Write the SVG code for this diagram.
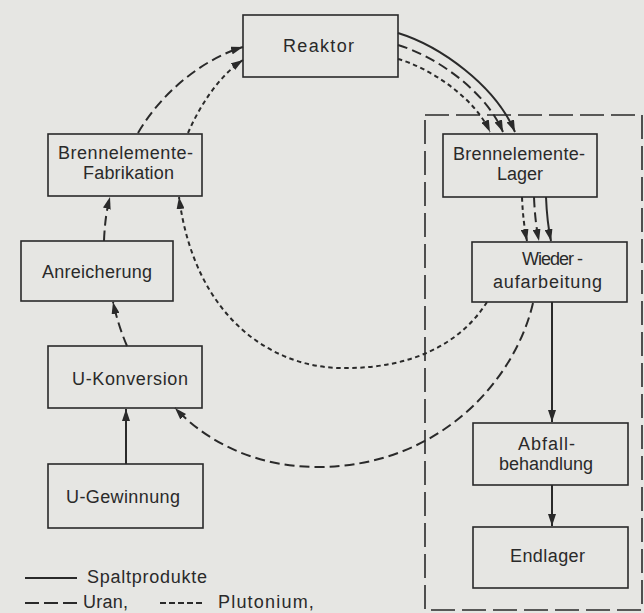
<svg xmlns="http://www.w3.org/2000/svg" width="644" height="613" viewBox="0 0 644 613">
<style>
.bg{fill:#e6e6e3}
.box{fill:none;stroke:#2a2a2a;stroke-width:1.6}
.t{font-family:"Liberation Sans",Arial,sans-serif;font-size:18px;fill:#2a2a2a}
.c{fill:none;stroke:#2a2a2a;stroke-width:2}
.u{stroke-dasharray:10 5}
.p{stroke-dasharray:4.5 3.5}
.enc{fill:none;stroke:#2a2a2a;stroke-width:1.6;stroke-dasharray:24 7}
</style>
<defs>
<marker id="ah" viewBox="0 0 12 8" refX="12" refY="4" markerWidth="12" markerHeight="8" markerUnits="userSpaceOnUse" orient="auto">
<path d="M0,0 L12,4 L0,8 z" fill="#2a2a2a"/>
</marker>
</defs>
<rect class="bg" x="0" y="0" width="644" height="613"/>
<path id="bereich" class="enc" d="M425,115 H642 V610 H425 Z"/>
<g id="reaktor"><rect class="box" x="243" y="15" width="155" height="62"/><text class="t" x="283" y="52" textLength="71" lengthAdjust="spacing">Reaktor</text></g>
<g id="lager"><rect class="box" x="443" y="134" width="154" height="63"/><text class="t" x="453" y="160" textLength="132" lengthAdjust="spacing">Brennelemente-</text><text class="t" x="497" y="180" textLength="46" lengthAdjust="spacing">Lager</text></g>
<g id="wiederaufarbeitung"><rect class="box" x="472" y="242" width="155" height="60"/><text class="t" x="522" y="265" textLength="61" lengthAdjust="spacing">Wieder -</text><text class="t" x="493" y="288" textLength="109" lengthAdjust="spacing">aufarbeitung</text></g>
<g id="abfall"><rect class="box" x="473" y="423" width="155" height="62"/><text class="t" x="518" y="450" textLength="57" lengthAdjust="spacing">Abfall-</text><text class="t" x="499" y="470" textLength="94" lengthAdjust="spacing">behandlung</text></g>
<g id="endlager"><rect class="box" x="473" y="527" width="155" height="61"/><text class="t" x="510" y="562" textLength="75" lengthAdjust="spacing">Endlager</text></g>
<g id="fabrikation"><rect class="box" x="48" y="134" width="154" height="62"/><text class="t" x="58" y="159" textLength="135" lengthAdjust="spacing">Brennelemente-</text><text class="t" x="83" y="179" textLength="91" lengthAdjust="spacing">Fabrikation</text></g>
<g id="anreicherung"><rect class="box" x="21" y="241" width="152" height="60"/><text class="t" x="42" y="278" textLength="110" lengthAdjust="spacing">Anreicherung</text></g>
<g id="konversion"><rect class="box" x="48" y="346" width="154" height="62"/><text class="t" x="72" y="385" textLength="116" lengthAdjust="spacing">U-Konversion</text></g>
<g id="gewinnung"><rect class="box" x="48" y="464" width="155" height="64"/><text class="t" x="66" y="503" textLength="114" lengthAdjust="spacing">U-Gewinnung</text></g>
<g id="connectors">
<path class="c" d="M398,33 C440,46 495,85 515,132" marker-end="url(#ah)"/>
<path class="c u" d="M398,45 C435,56 485,90 503,132" marker-end="url(#ah)"/>
<path class="c p" d="M398,59 C430,68 475,98 490,132" marker-end="url(#ah)"/>
<path class="c p" d="M522,197 Q523,222 527,241" marker-end="url(#ah)"/>
<path class="c u" d="M534,197 Q535,222 539,241" marker-end="url(#ah)"/>
<path class="c" d="M546,197 Q547,222 551,241" marker-end="url(#ah)"/>
<path class="c" d="M552,302 L552,422" marker-end="url(#ah)"/>
<path class="c" d="M552,485 L552,526" marker-end="url(#ah)"/>
<path class="c p" d="M487,302 C460,345 410,368 347,368 C275,370 195,320 179,197" marker-end="url(#ah)"/>
<path class="c u" d="M533,303 C515,380 440,467 317,467 C260,467 210,445 175,408" marker-end="url(#ah)"/>
<path class="c" d="M126,464 L126,409" marker-end="url(#ah)"/>
<path class="c u" d="M127,346 Q118,325 113,302" marker-end="url(#ah)"/>
<path class="c u" d="M104,241 Q105,215 110,197" marker-end="url(#ah)"/>
<path class="c u" d="M138,133 C160,95 200,60 243,47" marker-end="url(#ah)"/>
<path class="c p" d="M188,133 C200,105 220,75 243,60" marker-end="url(#ah)"/>
</g>
<g id="legende">
<line class="c" x1="25" y1="578" x2="77" y2="578"/>
<text class="t" x="87" y="583" textLength="120" lengthAdjust="spacing">Spaltprodukte</text>
<line class="c" x1="25" y1="603" x2="77" y2="603" stroke-dasharray="14 5"/>
<text class="t" x="83" y="608" font-size="17" textLength="45" lengthAdjust="spacing">Uran,</text>
<line class="c" x1="160" y1="603" x2="204" y2="603" stroke-dasharray="6 3"/>
<text class="t" x="218" y="608" font-size="17" letter-spacing="1.2">Plutonium,</text>
</g>
</svg>
